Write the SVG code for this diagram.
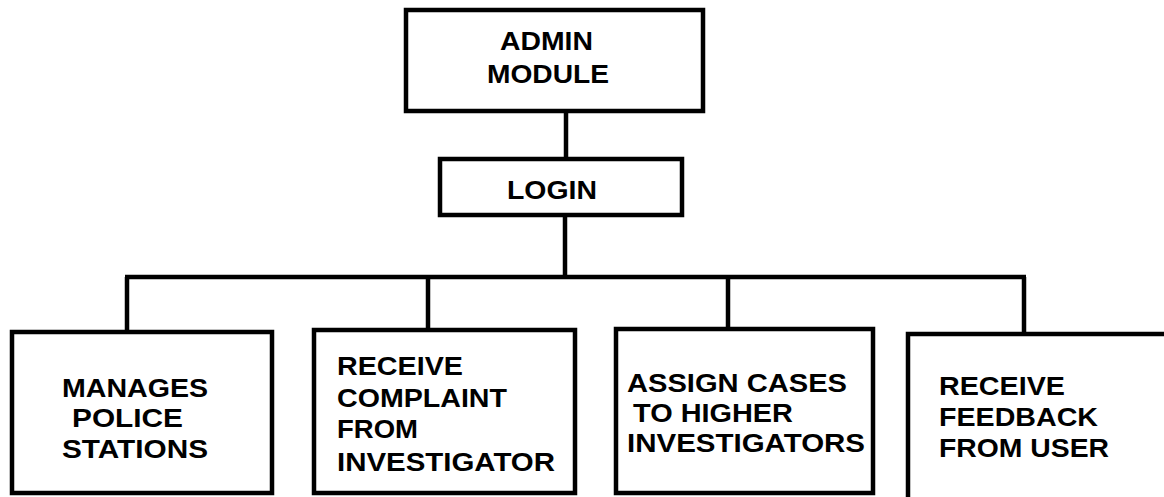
<svg xmlns="http://www.w3.org/2000/svg" width="1164" height="497" viewBox="0 0 1164 497">
<style>
.box{fill:#fff;stroke:#000;stroke-width:4.5}
.ln{fill:none;stroke:#000;stroke-width:4.5}
text{font-family:"Liberation Sans",Arial,sans-serif;font-weight:bold;font-size:25.5px;fill:#000}
</style>
<rect width="1164" height="497" fill="#fff"/>
<g id="connectors">
<line class="ln" x1="566" y1="111" x2="566" y2="159"/>
<line class="ln" x1="565" y1="215" x2="565" y2="277"/>
<line class="ln" x1="125" y1="277" x2="1026" y2="277"/>
<line class="ln" x1="127" y1="277" x2="127" y2="332"/>
<line class="ln" x1="428" y1="277" x2="428" y2="330"/>
<line class="ln" x1="728" y1="277" x2="728" y2="329"/>
<line class="ln" x1="1024" y1="277" x2="1024" y2="334"/>
</g>
<g id="admin">
<rect class="box" x="406" y="10" width="297" height="101"/>
<text x="500" y="50" textLength="93" lengthAdjust="spacingAndGlyphs">ADMIN</text>
<text x="487" y="83" textLength="122" lengthAdjust="spacingAndGlyphs">MODULE</text>
</g>
<g id="login">
<rect class="box" x="440" y="159" width="242" height="56"/>
<text x="507" y="199" textLength="90" lengthAdjust="spacingAndGlyphs">LOGIN</text>
</g>
<g id="manages">
<rect class="box" x="12" y="332" width="260" height="161"/>
<text x="62" y="397" textLength="146" lengthAdjust="spacingAndGlyphs">MANAGES</text>
<text x="72" y="427" textLength="111" lengthAdjust="spacingAndGlyphs">POLICE</text>
<text x="62" y="458" textLength="146" lengthAdjust="spacingAndGlyphs">STATIONS</text>
</g>
<g id="complaint">
<rect class="box" x="314" y="330" width="261" height="163"/>
<text x="337" y="375" textLength="126" lengthAdjust="spacingAndGlyphs">RECEIVE</text>
<text x="337" y="407" textLength="170" lengthAdjust="spacingAndGlyphs">COMPLAINT</text>
<text x="337" y="438" textLength="81" lengthAdjust="spacingAndGlyphs">FROM</text>
<text x="337" y="471" textLength="218" lengthAdjust="spacingAndGlyphs">INVESTIGATOR</text>
</g>
<g id="assign">
<rect class="box" x="616" y="329" width="257" height="164"/>
<text x="627" y="392" textLength="220" lengthAdjust="spacingAndGlyphs">ASSIGN CASES</text>
<text x="633" y="422" textLength="160" lengthAdjust="spacingAndGlyphs">TO HIGHER</text>
<text x="627" y="452" textLength="238" lengthAdjust="spacingAndGlyphs">INVESTIGATORS</text>
</g>
<g id="feedback">
<rect class="box" x="908" y="334" width="270" height="170"/>
<text x="939" y="395" textLength="126" lengthAdjust="spacingAndGlyphs">RECEIVE</text>
<text x="939" y="426" textLength="159" lengthAdjust="spacingAndGlyphs">FEEDBACK</text>
<text x="939" y="457" textLength="170" lengthAdjust="spacingAndGlyphs">FROM USER</text>
</g>
</svg>
